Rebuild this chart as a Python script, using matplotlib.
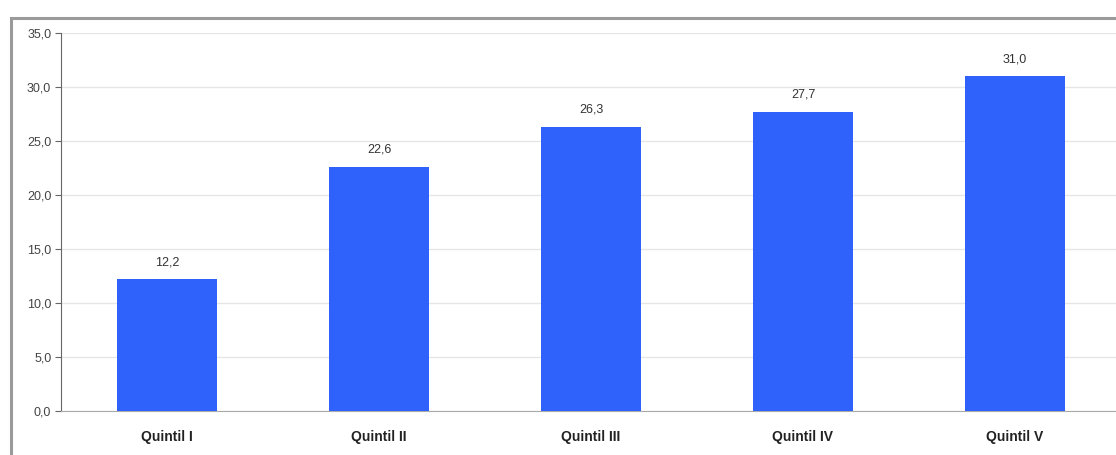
import matplotlib
matplotlib.use("Agg")
import matplotlib.pyplot as plt
from matplotlib.patches import Rectangle
from matplotlib.ticker import FuncFormatter

categories = ["Quintil I", "Quintil II", "Quintil III", "Quintil IV", "Quintil V"]
values = [12.2, 22.6, 26.3, 27.7, 31.0]
yticks = [0, 5, 10, 15, 20, 25, 30, 35]

W, H = 1116, 455
fig = plt.figure(figsize=(W / 100, H / 100), dpi=100)
fig.patch.set_facecolor("white")

# outer chart frame (top and left edges visible)
frame = Rectangle((11 / W, -0.1), 1.2, (H - 18) / H + 0.1, transform=fig.transFigure,
                  fill=False, edgecolor="#9a9a9a", linewidth=2.2)
fig.patches.append(frame)

ax = fig.add_axes([61 / W, 44 / H, 1060 / W, 378 / H])
x = range(len(categories))
ax.bar(x, values, width=0.475, color="#2f62fb", zorder=3)

for xi, v in zip(x, values):
    ax.annotate(f"{v:.1f}".replace(".", ","), (xi, v), xytext=(0, 8),
                textcoords="offset points", ha="center", va="bottom",
                fontsize=9, color="#333333", family="Liberation Sans")

ax.set_xlim(-0.5, len(categories) - 0.5)
ax.set_ylim(0, 35)
ax.set_yticks(yticks)
ax.yaxis.set_major_formatter(FuncFormatter(lambda v, p: f"{v:.1f}".replace(".", ",")))
ax.set_xticks(list(x))
ax.set_xticklabels(categories, fontsize=10, fontweight="bold", color="#222222",
                   family="Liberation Sans")
ax.tick_params(axis="x", length=0, pad=14)
ax.tick_params(axis="y", length=4, color="#666666", labelsize=9, labelcolor="#444444", pad=3)
for lbl in ax.get_yticklabels():
    lbl.set_family("Liberation Sans")

ax.grid(axis="y", color="#e6e6e6", linewidth=1, zorder=0)
for s in ["top", "right"]:
    ax.spines[s].set_visible(False)
ax.spines["left"].set_color("#666666")
ax.spines["bottom"].set_color("#aaaaaa")

fig.savefig("out.png", dpi=100)
